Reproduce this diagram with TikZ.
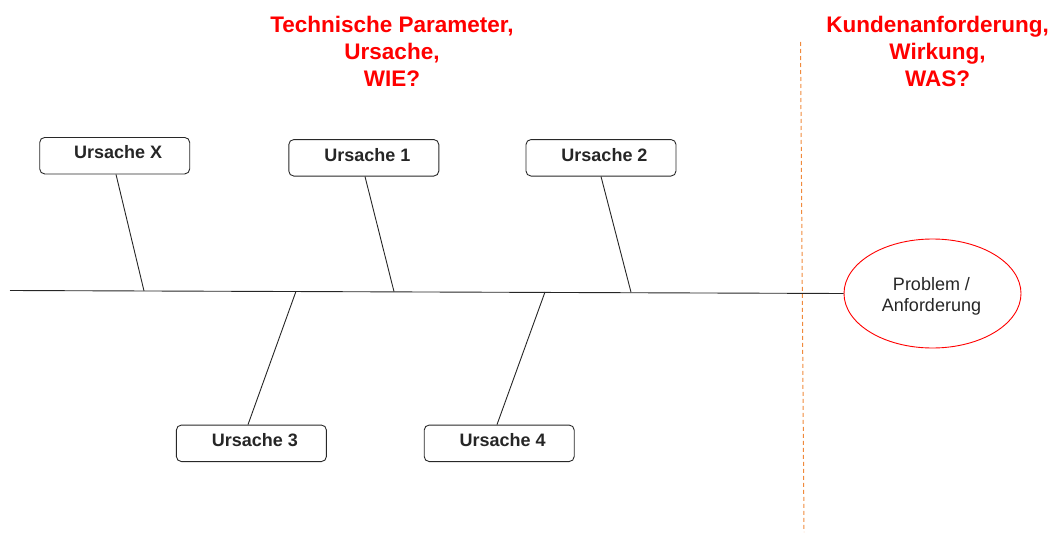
\documentclass[tikz,border=0pt]{standalone}
\usepackage{fontspec}
\setmainfont{Liberation Sans}
\usetikzlibrary{shapes.geometric}
\definecolor{titlered}{RGB}{255,0,0}
\definecolor{dashorange}{RGB}{240,138,60}
\definecolor{boxline}{RGB}{40,40,40}
\begin{document}
\begin{tikzpicture}[x=1pt,y=-1pt,
  cause/.style={draw=boxline, line width=0.9pt, rounded corners=5pt,
    minimum width=150pt, minimum height=36.5pt, inner sep=0pt,
    text height=12pt, text depth=5.6pt,
    execute at begin node=\hspace*{7pt},
    font=\fontsize{18}{21}\selectfont\bfseries, text=black!85},
  heading/.style={text=titlered, align=center,
    font=\fontsize{22.5}{27}\selectfont\bfseries},
  bone/.style={draw=black!85, line width=0.9pt},
  effect/.style={ellipse, draw=titlered, line width=0.9pt,
    minimum width=177pt, minimum height=109pt, inner sep=0pt},
  effecttext/.style={align=center, inner sep=0pt,
    font=\fontsize{18}{21}\selectfont, text=black!85},
  divider/.style={draw=dashorange, line width=1pt, dash pattern=on 4pt off 3pt}]
\useasboundingbox (0,0) rectangle (1057,535);

% headings
\node[heading] (hcause) at (392,51) {Technische Parameter,\\Ursache,\\WIE?};
\node[heading] (heffect) at (937.5,51) {Kundenanforderung,\\Wirkung,\\WAS?};

% divider between causes and effect
\coordinate (dtop) at (800.5,42);
\coordinate (dbot) at (804,532);
\draw[divider] (dtop) -- (dbot);

% effect head and spine
\node[effect] (prob) at (932.5,293.5) {};
\node[effecttext] (probtext) at (931.5,296) {Problem /\\Anforderung};
\coordinate (tail) at (10,290.5);
\draw[bone] (tail) -- (prob.west);

% cause boxes
\node[cause] (cX) at (114.7,155.7) {Ursache X};
\node[cause] (c1) at (363.8,157.8) {Ursache 1};
\node[cause] (c2) at (601,157.8) {Ursache 2};
\node[cause] (c3) at (251.4,443.3) {Ursache 3};
\node[cause] (c4) at (499.2,443.3) {Ursache 4};

% joints on the spine
\coordinate (jX) at (144,290.9);
\coordinate (j3) at (296,291.3);
\coordinate (j1) at (394,291.6);
\coordinate (j4) at (545,292.0);
\coordinate (j2) at (631,292.2);

% bones
\draw[bone] ([xshift=1.3pt]cX.south) -- (jX);
\draw[bone] ([xshift=1.2pt]c1.south) -- (j1);
\draw[bone] (c2.south) -- (j2);
\draw[bone] ([xshift=-3.4pt]c3.north) -- (j3);
\draw[bone] ([xshift=-2.2pt]c4.north) -- (j4);
\end{tikzpicture}
\end{document}
